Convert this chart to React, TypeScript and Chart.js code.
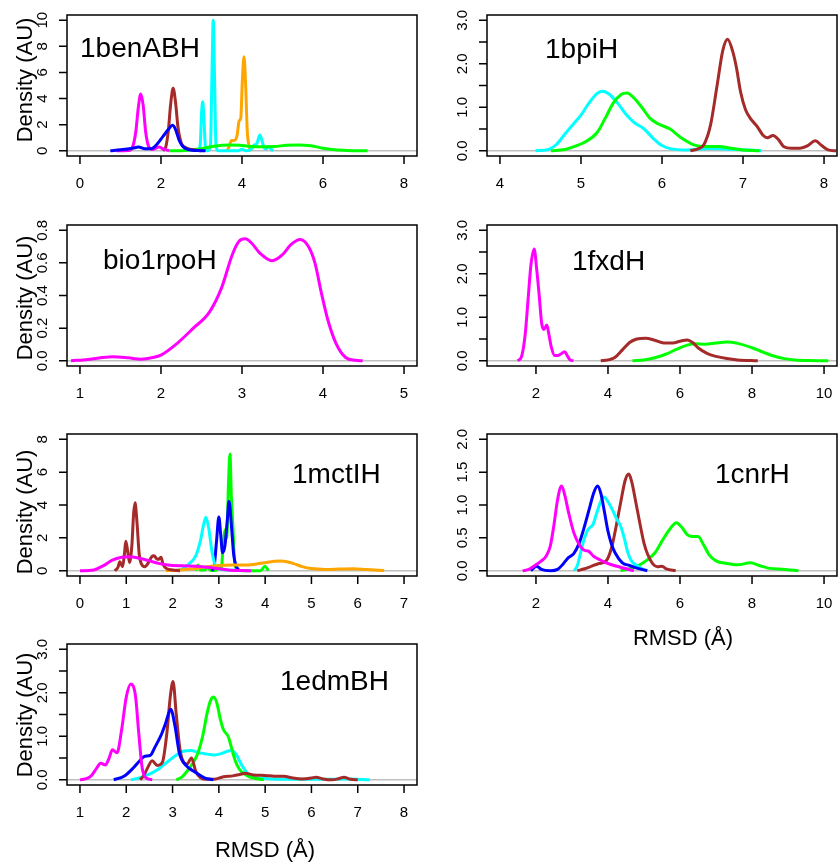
import { useEffect, useRef } from "react"
import { Chart, registerables } from "chart.js"

Chart.register(...registerables)

type Pt = [number, number]

const MAGENTA = "#ff00ff"
const BLUE = "#0000ff"
const BROWN = "#a52a2a"
const CYAN = "#00ffff"
const ORANGE = "#ffa500"
const GREEN = "#00ff00"

// 1benABH
const benBlue: Pt[] = [[0.75, 0], [1.0, 0.08], [1.3, 0.2], [1.45, 0.28], [1.6, 0.15], [1.75, 0.15], [1.9, 0.5], [2.05, 1.1], [2.2, 1.7], [2.28, 1.95], [2.35, 1.7], [2.45, 0.8], [2.55, 0.3], [2.7, 0.08], [2.9, 0.02], [3.1, 0]]
const benMagenta: Pt[] = [[0.9, 0], [1.2, 0.02], [1.3, 0.3], [1.38, 1.5], [1.44, 3.3], [1.5, 4.35], [1.56, 3.5], [1.62, 1.5], [1.7, 0.3], [1.8, 0.1], [1.95, 0.28], [2.05, 0.15], [2.2, 0]]
const benBrown: Pt[] = [[2.05, 0], [2.12, 0.3], [2.18, 1.5], [2.24, 3.6], [2.3, 4.78], [2.36, 3.7], [2.42, 1.8], [2.5, 0.6], [2.6, 0.25], [2.75, 0.1], [2.9, 0.03], [3.0, 0]]
const benGreen: Pt[] = [[2.2, 0], [2.6, 0.03], [3.0, 0.15], [3.3, 0.35], [3.7, 0.45], [4.0, 0.4], [4.4, 0.3], [4.8, 0.33], [5.1, 0.42], [5.4, 0.45], [5.7, 0.38], [6.0, 0.2], [6.3, 0.07], [6.6, 0.02], [7.1, 0]]
const benCyan: Pt[] = [[2.92, 0], [2.97, 0.5], [3.0, 2.8], [3.03, 3.76], [3.06, 2.5], [3.1, 0.2], [3.15, 0], [3.22, 0.3], [3.26, 6], [3.29, 10], [3.32, 6], [3.36, 0.3], [3.42, 0], [3.9, 0], [4.0, 0.12], [4.1, 0], [4.22, 0.1], [4.3, 0.45], [4.36, 0.5], [4.44, 1.2], [4.5, 0.7], [4.55, 0.2], [4.6, 0.15], [4.66, 0.32], [4.72, 0.1], [4.77, 0]]
const benOrange: Pt[] = [[3.63, 0], [3.68, 0.3], [3.74, 0.78], [3.82, 0.8], [3.88, 1.2], [3.93, 2.3], [3.97, 2.5], [4.01, 5.5], [4.05, 7.2], [4.09, 5], [4.13, 1.5], [4.18, 0.3], [4.24, 0]]

// 1bpiH
const bpiCyan: Pt[] = [[4.44, 0], [4.6, 0.03], [4.7, 0.15], [4.8, 0.38], [4.9, 0.6], [5.0, 0.82], [5.1, 1.1], [5.2, 1.32], [5.27, 1.37], [5.35, 1.3], [5.45, 1.1], [5.55, 0.85], [5.65, 0.66], [5.78, 0.5], [5.9, 0.27], [6.0, 0.12], [6.1, 0.05], [6.3, 0.02], [6.6, 0.05], [6.9, 0.03], [7.23, 0]]
const bpiGreen: Pt[] = [[4.63, 0], [4.8, 0.03], [4.92, 0.1], [5.05, 0.2], [5.2, 0.42], [5.3, 0.75], [5.4, 1.1], [5.5, 1.3], [5.57, 1.33], [5.65, 1.22], [5.75, 1.0], [5.85, 0.75], [5.95, 0.62], [6.1, 0.5], [6.25, 0.28], [6.4, 0.13], [6.55, 0.1], [6.7, 0.1], [6.85, 0.06], [7.0, 0.02], [7.2, 0]]
const bpiBrown: Pt[] = [[6.35, 0], [6.45, 0.05], [6.52, 0.15], [6.6, 0.6], [6.68, 1.5], [6.75, 2.3], [6.81, 2.56], [6.87, 2.3], [6.92, 1.9], [6.97, 1.35], [7.03, 0.95], [7.1, 0.72], [7.17, 0.57], [7.25, 0.35], [7.3, 0.3], [7.37, 0.35], [7.44, 0.25], [7.5, 0.1], [7.6, 0.06], [7.7, 0.06], [7.8, 0.12], [7.89, 0.23], [7.97, 0.12], [8.05, 0.02], [8.15, 0]]

// bio1rpoH
const rpoMagenta: Pt[] = [[0.89, 0], [1.1, 0.008], [1.4, 0.025], [1.6, 0.018], [1.75, 0.01], [1.9, 0.02], [2.0, 0.035], [2.2, 0.107], [2.4, 0.2], [2.6, 0.3], [2.75, 0.45], [2.88, 0.65], [2.96, 0.73], [3.04, 0.747], [3.12, 0.72], [3.22, 0.66], [3.37, 0.613], [3.5, 0.65], [3.6, 0.71], [3.72, 0.743], [3.82, 0.7], [3.9, 0.6], [3.98, 0.415], [4.06, 0.25], [4.16, 0.107], [4.28, 0.02], [4.4, 0.003], [4.49, 0]]

// 1fxdH
const fxdMagenta: Pt[] = [[1.49, 0], [1.6, 0.1], [1.7, 0.6], [1.78, 1.4], [1.86, 2.2], [1.95, 2.57], [2.02, 2.1], [2.09, 1.5], [2.16, 0.85], [2.22, 0.72], [2.3, 0.82], [2.36, 0.6], [2.43, 0.3], [2.52, 0.12], [2.6, 0.12], [2.68, 0.15], [2.8, 0.21], [2.88, 0.1], [2.95, 0.02], [3.04, 0]]
const fxdBrown: Pt[] = [[3.8, 0], [4.0, 0.02], [4.2, 0.08], [4.4, 0.25], [4.6, 0.42], [4.8, 0.5], [5.05, 0.52], [5.3, 0.47], [5.55, 0.41], [5.8, 0.41], [6.0, 0.45], [6.2, 0.48], [6.35, 0.42], [6.5, 0.3], [6.75, 0.17], [7.0, 0.1], [7.3, 0.05], [7.6, 0.02], [8.16, 0]]
const fxdGreen: Pt[] = [[4.68, 0], [5.0, 0.02], [5.3, 0.07], [5.6, 0.15], [5.9, 0.26], [6.2, 0.36], [6.45, 0.39], [6.7, 0.38], [7.0, 0.41], [7.3, 0.43], [7.6, 0.4], [8.0, 0.3], [8.3, 0.2], [8.6, 0.11], [8.9, 0.05], [9.2, 0.02], [9.6, 0.005], [10.12, 0]]

// 1mctIH
const mctMagenta: Pt[] = [[0.0, 0], [0.3, 0.05], [0.5, 0.3], [0.7, 0.65], [0.9, 0.82], [1.05, 0.85], [1.3, 0.75], [1.5, 0.6], [1.7, 0.45], [1.9, 0.35], [2.2, 0.3], [2.5, 0.28], [2.8, 0.2], [3.0, 0.12], [3.2, 0.05], [3.5, 0.01], [3.7, 0]]
const mctBrown: Pt[] = [[0.75, 0], [0.82, 0.2], [0.86, 0.55], [0.92, 0.25], [0.96, 1.0], [0.99, 1.79], [1.03, 1.2], [1.07, 0.5], [1.12, 1.5], [1.16, 3.5], [1.19, 4.13], [1.23, 3.0], [1.28, 1.0], [1.33, 0.4], [1.4, 0.25], [1.48, 0.5], [1.55, 0.85], [1.6, 0.91], [1.66, 0.72], [1.7, 0.7], [1.75, 0.82], [1.8, 0.35], [1.88, 0.12], [2.0, 0.05], [2.16, 0]]
const mctOrange: Pt[] = [[1.86, 0], [2.1, 0.03], [2.4, 0.1], [2.7, 0.22], [3.0, 0.32], [3.3, 0.35], [3.6, 0.35], [3.9, 0.45], [4.2, 0.58], [4.35, 0.6], [4.6, 0.45], [4.8, 0.25], [5.0, 0.13], [5.3, 0.08], [5.6, 0.1], [5.9, 0.12], [6.2, 0.07], [6.57, 0.02]]
const mctCyan: Pt[] = [[2.0, 0], [2.2, 0.1], [2.35, 0.4], [2.5, 0.9], [2.6, 1.8], [2.67, 2.8], [2.72, 3.25], [2.78, 2.6], [2.85, 1.2], [2.92, 0.35], [3.0, 0.1], [3.2, 0.05], [3.35, 0.03], [3.5, 0]]
const mctBlue: Pt[] = [[2.85, 0], [2.9, 0.3], [2.95, 1.8], [3.0, 3.27], [3.04, 2.2], [3.08, 1.1], [3.13, 1.5], [3.18, 3.0], [3.22, 4.23], [3.27, 2.8], [3.32, 1.0], [3.37, 0.3], [3.45, 0]]
const mctGreen: Pt[] = [[2.5, 0], [2.55, 0.35], [2.6, 0.05], [2.7, 0.05], [2.76, 0.25], [2.82, 0.02], [2.95, 0.05], [3.0, 0.2], [3.05, 0.1], [3.1, 1.8], [3.14, 2.5], [3.17, 2.0], [3.21, 5.5], [3.24, 7.1], [3.27, 4.5], [3.3, 2.9], [3.33, 1.0], [3.37, 0.15], [3.45, 0.02], [3.9, 0], [4.0, 0.28], [4.07, 0]]

// 1cnrH
const cnrMagenta: Pt[] = [[1.63, 0], [1.8, 0.02], [2.0, 0.09], [2.15, 0.15], [2.28, 0.22], [2.4, 0.38], [2.5, 0.7], [2.6, 1.08], [2.71, 1.29], [2.8, 1.15], [2.9, 0.9], [3.05, 0.58], [3.2, 0.4], [3.35, 0.31], [3.45, 0.3], [3.6, 0.22], [3.8, 0.16], [4.0, 0.11], [4.3, 0.06], [4.72, 0]]
const cnrBlue: Pt[] = [[1.86, 0], [1.95, 0.05], [2.02, 0.07], [2.15, 0.02], [2.4, 0], [2.6, 0.02], [2.75, 0.1], [2.9, 0.2], [3.05, 0.26], [3.2, 0.42], [3.35, 0.68], [3.5, 0.98], [3.6, 1.18], [3.71, 1.29], [3.8, 1.18], [3.9, 0.9], [4.0, 0.6], [4.1, 0.4], [4.2, 0.27], [4.4, 0.12], [4.6, 0.08], [4.8, 0.04], [5.09, 0]]
const cnrCyan: Pt[] = [[3.06, 0], [3.15, 0.08], [3.25, 0.3], [3.35, 0.5], [3.45, 0.63], [3.58, 0.7], [3.7, 0.9], [3.8, 1.06], [3.89, 1.12], [4.0, 1.05], [4.12, 0.93], [4.25, 0.78], [4.35, 0.68], [4.45, 0.5], [4.55, 0.28], [4.65, 0.15], [4.8, 0.08], [4.95, 0.03], [5.09, 0]]
const cnrBrown: Pt[] = [[3.15, 0], [3.35, 0.03], [3.55, 0.07], [3.75, 0.11], [3.95, 0.15], [4.1, 0.35], [4.2, 0.6], [4.35, 1.03], [4.48, 1.38], [4.58, 1.47], [4.66, 1.35], [4.77, 1.05], [4.9, 0.68], [5.0, 0.42], [5.1, 0.25], [5.25, 0.1], [5.37, 0.06], [5.5, 0.07], [5.62, 0.03], [5.88, 0]]
const cnrGreen: Pt[] = [[4.35, 0], [4.6, 0.03], [4.85, 0.08], [5.1, 0.17], [5.3, 0.27], [5.5, 0.45], [5.7, 0.62], [5.9, 0.73], [6.05, 0.66], [6.2, 0.55], [6.35, 0.52], [6.5, 0.52], [6.65, 0.4], [6.8, 0.25], [7.0, 0.15], [7.3, 0.11], [7.6, 0.09], [7.95, 0.12], [8.2, 0.08], [8.45, 0.04], [8.9, 0.02], [9.29, 0]]

// 1edmBH
const edmMagenta: Pt[] = [[1.0, 0], [1.15, 0.03], [1.25, 0.1], [1.35, 0.25], [1.45, 0.38], [1.55, 0.34], [1.63, 0.5], [1.7, 0.69], [1.8, 0.62], [1.9, 1.15], [2.0, 1.9], [2.1, 2.2], [2.2, 1.92], [2.27, 1.07], [2.34, 0.3], [2.42, 0.05], [2.56, 0]]
const edmBlue: Pt[] = [[1.73, 0], [1.95, 0.08], [2.15, 0.27], [2.3, 0.45], [2.4, 0.54], [2.52, 0.56], [2.62, 0.75], [2.75, 1.02], [2.85, 1.3], [2.96, 1.62], [3.05, 1.25], [3.15, 0.6], [3.3, 0.32], [3.45, 0.2], [3.6, 0.1], [3.7, 0.04], [3.88, 0]]
const edmBrown: Pt[] = [[2.3, 0], [2.38, 0.1], [2.45, 0.25], [2.56, 0.44], [2.67, 0.33], [2.78, 0.4], [2.88, 1.1], [2.95, 1.9], [3.01, 2.26], [3.08, 1.5], [3.16, 0.7], [3.24, 0.4], [3.31, 0.36], [3.41, 0.5], [3.5, 0.2], [3.6, 0.05], [3.7, 0.01], [3.9, 0.01], [4.1, 0.07], [4.3, 0.09], [4.45, 0.12], [4.57, 0.15], [4.75, 0.11], [5.0, 0.1], [5.2, 0.08], [5.4, 0.08], [5.6, 0.04], [5.8, 0.02], [6.0, 0.04], [6.1, 0.06], [6.25, 0.02], [6.45, 0.0], [6.6, 0.03], [6.7, 0.06], [6.85, 0.01], [7.0, 0]]
const edmGreen: Pt[] = [[3.08, 0], [3.2, 0.06], [3.31, 0.19], [3.45, 0.4], [3.55, 0.62], [3.65, 1.0], [3.75, 1.55], [3.82, 1.82], [3.89, 1.9], [3.96, 1.75], [4.03, 1.4], [4.1, 1.15], [4.2, 1.0], [4.27, 0.75], [4.35, 0.45], [4.45, 0.23], [4.6, 0.1], [4.75, 0.04], [4.97, 0]]
const edmCyan: Pt[] = [[2.1, 0], [2.3, 0.05], [2.5, 0.13], [2.7, 0.25], [2.9, 0.42], [3.1, 0.58], [3.25, 0.66], [3.4, 0.67], [3.55, 0.63], [3.7, 0.6], [3.9, 0.57], [4.05, 0.6], [4.2, 0.66], [4.28, 0.67], [4.38, 0.57], [4.5, 0.33], [4.62, 0.14], [4.8, 0.05], [5.0, 0.03], [5.5, 0.01], [6.0, 0.01], [6.5, 0.01], [6.8, 0.02], [7.26, 0]]

// axis ticks
const tensTicks = [0, 2, 4, 6, 8, 10]
const eightTicks = [0, 2, 4, 6, 8]
const halfTicks3 = [0, 0.5, 1, 1.5, 2, 2.5, 3]
const halfLabels3 = ["0.0", "", "1.0", "", "2.0", "", "3.0"]
const halfTicks2 = [0, 0.5, 1, 1.5, 2]
const halfLabels2 = ["0.0", "0.5", "1.0", "1.5", "2.0"]
const rpoTicks = [0, 0.2, 0.4, 0.6, 0.8]
const rpoLabels = ["0.0", "0.2", "0.4", "0.6", "0.8"]

const FONT = "'Liberation Sans', Arial, Helvetica, sans-serif"
const W = 838
const H = 862

type Curve = { color: string; points: Pt[] }
type Panel = {
  title: string
  titleAt: [number, number]
  box: [number, number, number, number]
  xlim: [number, number]
  ylim: [number, number]
  xTicks: number[]
  yTicks: number[]
  yLabels: string[]
  ylabY?: number
  xlabX?: [number, number]
  curves: Curve[]
}

const COL = [[67, 417], [487, 837]]
const ROW = [[15, 156], [225, 366], [434, 576], [644, 785]]
const box = (c: number, r: number): [number, number, number, number] => [COL[c][0], ROW[r][0], COL[c][1], ROW[r][1]]
const str = (t: number[]) => t.map(String)

const panels: Panel[] = [
  {
    title: "1benABH", titleAt: [80, 57], box: box(0, 0), xlim: [0, 8], ylim: [0, 10],
    xTicks: eightTicks, yTicks: tensTicks, yLabels: str(tensTicks), ylabY: 80,
    curves: [
      { color: BLUE, points: benBlue }, { color: MAGENTA, points: benMagenta }, { color: BROWN, points: benBrown },
      { color: GREEN, points: benGreen }, { color: CYAN, points: benCyan }, { color: ORANGE, points: benOrange },
    ],
  },
  {
    title: "1bpiH", titleAt: [545, 58], box: box(1, 0), xlim: [4, 8], ylim: [0, 3],
    xTicks: [4, 5, 6, 7, 8], yTicks: halfTicks3, yLabels: halfLabels3,
    curves: [{ color: BROWN, points: bpiBrown }, { color: GREEN, points: bpiGreen }, { color: CYAN, points: bpiCyan }],
  },
  {
    title: "bio1rpoH", titleAt: [103, 269], box: box(0, 1), xlim: [1, 5], ylim: [0, 0.8],
    xTicks: [1, 2, 3, 4, 5], yTicks: rpoTicks, yLabels: rpoLabels, ylabY: 298,
    curves: [{ color: MAGENTA, points: rpoMagenta }],
  },
  {
    title: "1fxdH", titleAt: [572, 270], box: box(1, 1), xlim: [1, 10], ylim: [0, 3],
    xTicks: [2, 4, 6, 8, 10], yTicks: halfTicks3, yLabels: halfLabels3,
    curves: [{ color: MAGENTA, points: fxdMagenta }, { color: BROWN, points: fxdBrown }, { color: GREEN, points: fxdGreen }],
  },
  {
    title: "1mctIH", titleAt: [292, 483], box: box(0, 2), xlim: [0, 7], ylim: [0, 8],
    xTicks: [0, 1, 2, 3, 4, 5, 6, 7], yTicks: eightTicks, yLabels: str(eightTicks), ylabY: 512,
    curves: [
      { color: MAGENTA, points: mctMagenta }, { color: BROWN, points: mctBrown }, { color: ORANGE, points: mctOrange },
      { color: CYAN, points: mctCyan }, { color: BLUE, points: mctBlue }, { color: GREEN, points: mctGreen },
    ],
  },
  {
    title: "1cnrH", titleAt: [715, 483], box: box(1, 2), xlim: [1, 10], ylim: [0, 2],
    xTicks: [2, 4, 6, 8, 10], yTicks: halfTicks2, yLabels: halfLabels2, xlabX: [683, 645],
    curves: [
      { color: MAGENTA, points: cnrMagenta }, { color: BLUE, points: cnrBlue }, { color: CYAN, points: cnrCyan },
      { color: BROWN, points: cnrBrown }, { color: GREEN, points: cnrGreen },
    ],
  },
  {
    title: "1edmBH", titleAt: [280, 690], box: box(0, 3), xlim: [1, 8], ylim: [0, 3],
    xTicks: [1, 2, 3, 4, 5, 6, 7, 8], yTicks: halfTicks3, yLabels: halfLabels3, ylabY: 715, xlabX: [265, 857],
    curves: [
      { color: MAGENTA, points: edmMagenta }, { color: BLUE, points: edmBlue }, { color: BROWN, points: edmBrown },
      { color: GREEN, points: edmGreen }, { color: CYAN, points: edmCyan },
    ],
  },
]

// R extends the axis limits by 4% on each side
const widen = ([a, b]: [number, number]) => [a - 0.04 * (b - a), b + 0.04 * (b - a)]

function rAxesPlugin(p: Panel) {
  return {
    id: "rAxes",
    beforeDatasetsDraw(chart: any) {
      const { ctx, chartArea: a, scales } = chart
      const y0 = scales.y.getPixelForValue(0)
      ctx.save()
      ctx.strokeStyle = "#bebebe"
      ctx.lineWidth = 1.5
      ctx.beginPath()
      ctx.moveTo(a.left, y0)
      ctx.lineTo(a.right, y0)
      ctx.stroke()
      ctx.restore()
    },
    afterDraw(chart: any) {
      const { ctx, chartArea: a, scales } = chart
      ctx.save()
      ctx.strokeStyle = "#000"
      ctx.fillStyle = "#000"
      ctx.lineWidth = 1.5
      ctx.strokeRect(a.left, a.top, a.right - a.left, a.bottom - a.top)

      ctx.font = `15px ${FONT}`
      ctx.textAlign = "center"
      ctx.textBaseline = "alphabetic"
      ctx.beginPath()
      for (const v of p.xTicks) {
        const x = scales.x.getPixelForValue(v)
        ctx.moveTo(x, a.bottom)
        ctx.lineTo(x, a.bottom + 8)
      }
      for (const v of p.yTicks) {
        const y = scales.y.getPixelForValue(v)
        ctx.moveTo(a.left, y)
        ctx.lineTo(a.left - 8, y)
      }
      ctx.stroke()
      for (const v of p.xTicks) {
        ctx.fillText(String(v), scales.x.getPixelForValue(v), a.bottom + 32)
      }
      p.yTicks.forEach((v, i) => {
        if (!p.yLabels[i]) return
        ctx.save()
        ctx.translate(a.left - 20, scales.y.getPixelForValue(v))
        ctx.rotate(-Math.PI / 2)
        ctx.fillText(p.yLabels[i], 0, 0)
        ctx.restore()
      })

      ctx.textAlign = "left"
      ctx.font = `28px ${FONT}`
      ctx.fillText(p.title, p.titleAt[0], p.titleAt[1])

      ctx.font = `22px ${FONT}`
      ctx.textAlign = "center"
      if (p.ylabY !== undefined) {
        ctx.save()
        ctx.translate(32, p.ylabY)
        ctx.rotate(-Math.PI / 2)
        ctx.fillText("Density (AU)", 0, 0)
        ctx.restore()
      }
      if (p.xlabX) {
        ctx.fillText("RMSD (Å)", p.xlabX[0], p.xlabX[1])
      }
      ctx.restore()
    },
  }
}

function DensityPanel({ panel }: { panel: Panel }) {
  const chartRef = useRef<HTMLCanvasElement>(null)
  const chartInstance = useRef<Chart | null>(null)

  useEffect(() => {
    if (!chartRef.current) return
    if (chartInstance.current) chartInstance.current.destroy()
    const ctx = chartRef.current.getContext("2d")
    if (!ctx) return

    const [xmin, xmax] = widen(panel.xlim)
    const [ymin, ymax] = widen(panel.ylim)
    const [left, top, right, bottom] = panel.box

    chartInstance.current = new Chart(ctx, {
      type: "line",
      data: {
        datasets: panel.curves.map((c) => ({
          data: c.points.map(([x, y]) => ({ x, y })),
          borderColor: c.color,
          borderWidth: 3,
          pointRadius: 0,
          fill: false,
          cubicInterpolationMode: "monotone" as const,
        })),
      },
      options: {
        responsive: false,
        animation: false,
        devicePixelRatio: 1,
        layout: { padding: { left, top, right: W - right, bottom: H - bottom } },
        scales: {
          x: { type: "linear", display: false, min: xmin, max: xmax },
          y: { type: "linear", display: false, min: ymin, max: ymax },
        },
        plugins: { legend: { display: false }, tooltip: { enabled: false } },
      },
      plugins: [rAxesPlugin(panel)],
    })

    return () => {
      if (chartInstance.current) {
        chartInstance.current.destroy()
        chartInstance.current = null
      }
    }
  }, [panel])

  return <canvas ref={chartRef} width={W} height={H} style={{ position: "absolute", left: 0, top: 0 }} />
}

export default function App() {
  return (
    <div style={{ position: "absolute", left: 0, top: 0, width: W, height: H, background: "#fff" }}>
      {panels.map((p) => (
        <DensityPanel key={p.title} panel={p} />
      ))}
    </div>
  )
}
